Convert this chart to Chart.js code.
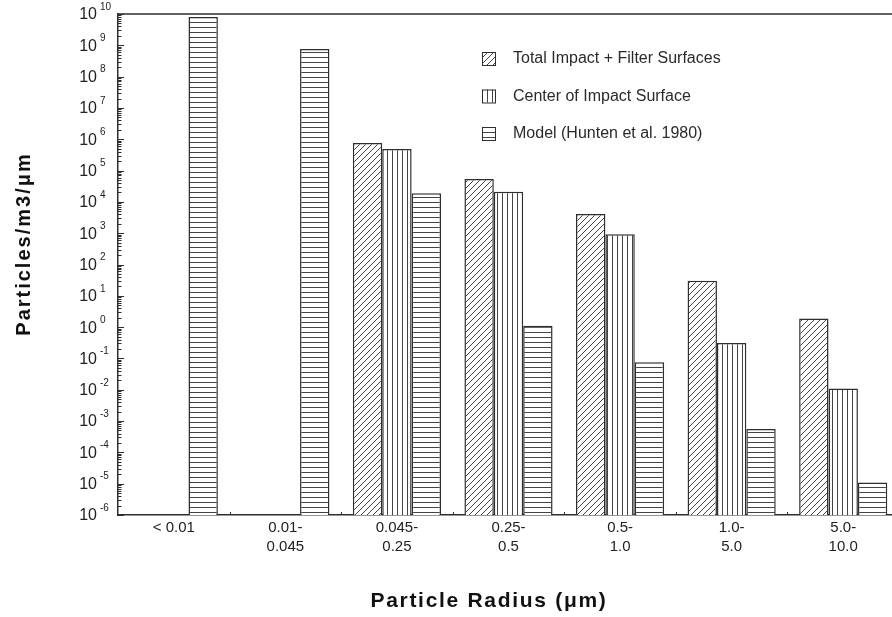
<!DOCTYPE html>
<html>
<head>
<meta charset="utf-8">
<script src="https://cdn.jsdelivr.net/npm/chart.js@4.4.1/dist/chart.umd.min.js"></script>
<style>
  html, body { margin: 0; padding: 0; background: #fff; overflow: hidden; }
  #wrap { width: 906px; height: 617px; }
</style>
</head>
<body>
<div id="wrap"><canvas id="barChart" width="906" height="617"></canvas></div>
<script>
// categories (particle radius bins, um)
const categories = ['< 0.01', ['0.01-', '0.045'], ['0.045-', '0.25'], ['0.25-', '0.5'], ['0.5-', '1.0'], ['1.0-', '5.0'], ['5.0-', '10.0']];

// series values, particles/m3/um
const totalImpact  = [null, null, 7.6e5, 5.4e4, 4.1e3, 30, 1.9];
const centerImpact = [null, null, 4.9e5, 2.1e4, 930, 0.31, 0.011];
const modelHunten  = [8.0e9, 7.6e8, 1.9e4, 1.1, 0.075, 5.6e-4, 1.1e-5];

const seriesLabels = ['Total Impact + Filter Surfaces', 'Center of Impact Surface', 'Model (Hunten et al. 1980)'];

// y tick labels are 10^n for these exponents
const yTickExponents = [-6, -5, -4, -3, -2, -1, 0, 1, 2, 3, 4, 5, 6, 7, 8, 9, 10];

const yTitle = 'Particles/m3/\u03bcm';
const xTitle = 'Particle Radius (\u03bcm)';

const ink = '#2e2e2e';
const ctx = document.getElementById('barChart').getContext('2d');

// hatch fills like the printed figure
function makePattern(kind) {
  const s = kind === 'diag' ? 6 : 5;
  const c = document.createElement('canvas');
  c.width = s; c.height = s;
  const g = c.getContext('2d');
  g.fillStyle = '#fff';
  g.fillRect(0, 0, s, s);
  g.strokeStyle = '#444';
  g.lineWidth = 1;
  g.beginPath();
  if (kind === 'diag') {
    g.moveTo(-1, s + 1); g.lineTo(s + 1, -1);
    g.moveTo(-1, 1); g.lineTo(1, -1);
    g.moveTo(s - 1, s + 1); g.lineTo(s + 1, s - 1);
  } else if (kind === 'vert') {
    g.moveTo(2.5, 0); g.lineTo(2.5, s);
  } else {
    g.moveTo(0, 2.5); g.lineTo(s, 2.5);
  }
  g.stroke();
  return ctx.createPattern(c, 'repeat');
}

const fills = [makePattern('diag'), makePattern('vert'), makePattern('horiz')];

// ticks, labels with superscripts, titles and legend
const decorations = {
  id: 'decorations',
  afterDraw(chart) {
    const c = chart.ctx;
    const area = chart.chartArea;
    const y = chart.scales.y;
    const x = chart.scales.x;
    c.save();

    // top frame line
    c.strokeStyle = ink;
    c.lineWidth = 1.5;
    c.beginPath();
    c.moveTo(area.left, area.top);
    c.lineTo(area.right, area.top);
    c.stroke();

    // inward log ticks on the y axis
    c.lineWidth = 1;
    c.beginPath();
    for (let i = 0; i < yTickExponents.length; i++) {
      const e = yTickExponents[i];
      const maxK = i === yTickExponents.length - 1 ? 1 : 9;
      for (let k = 1; k <= maxK; k++) {
        const py = Math.round(y.getPixelForValue(k * Math.pow(10, e))) + 0.5;
        c.moveTo(area.left, py);
        c.lineTo(area.left + (k === 1 ? 6 : 3.5), py);
      }
    }
    // small marks between categories
    for (let i = 0; i < categories.length - 1; i++) {
      const px = Math.round((x.getPixelForTick(i) + x.getPixelForTick(i + 1)) / 2) + 0.5;
      c.moveTo(px, area.bottom);
      c.lineTo(px, area.bottom - 3);
    }
    c.stroke();

    // y tick labels 10^n
    c.fillStyle = '#222';
    c.textBaseline = 'middle';
    yTickExponents.forEach(e => {
      const py = y.getPixelForValue(Math.pow(10, e)) + 1;
      c.font = '16px "Liberation Sans", Arial, sans-serif';
      c.textAlign = 'right';
      c.fillText('10', area.left - 21, py);
      c.font = '10px "Liberation Sans", Arial, sans-serif';
      c.textAlign = 'left';
      c.fillText(String(e), area.left - 18, py - 8);
    });

    // axis titles
    c.fillStyle = '#111';
    c.textAlign = 'center';
    c.textBaseline = 'alphabetic';
    c.font = 'bold 20px "Liberation Sans", Arial, sans-serif';
    c.letterSpacing = '2px';
    c.save();
    c.translate(30, 244);
    c.rotate(-Math.PI / 2);
    c.fillText(yTitle, 0, 0);
    c.restore();
    c.font = 'bold 21px "Liberation Sans", Arial, sans-serif';
    c.letterSpacing = '1.7px';
    c.fillText(xTitle, 489, 607);
    c.letterSpacing = '0px';

    // legend
    c.font = '16px "Liberation Sans", Arial, sans-serif';
    c.textAlign = 'left';
    c.textBaseline = 'middle';
    chart.data.datasets.forEach((ds, i) => {
      const bx = area.left + 364;
      const by = area.top + 38 + i * 37.5;
      c.fillStyle = ds.backgroundColor;
      c.fillRect(bx, by, 13, 13);
      c.strokeStyle = ink;
      c.lineWidth = 1;
      c.strokeRect(bx + 0.5, by + 0.5, 13, 13);
      c.fillStyle = '#2a2a2a';
      c.fillText(ds.label, area.left + 395, by + 7);
    });

    c.restore();
  }
};

new Chart(ctx, {
  type: 'bar',
  data: {
    labels: categories,
    datasets: [
      { label: seriesLabels[0], data: totalImpact, backgroundColor: fills[0] },
      { label: seriesLabels[1], data: centerImpact, backgroundColor: fills[1] },
      { label: seriesLabels[2], data: modelHunten, backgroundColor: fills[2] }
    ].map(ds => Object.assign(ds, {
      borderColor: ink,
      borderWidth: 1.5,
      categoryPercentage: 0.79,
      barPercentage: 1.0
    }))
  },
  options: {
    responsive: false,
    animation: false,
    layout: { padding: { top: 14, right: 7, left: 0, bottom: 0 } },
    plugins: {
      legend: { display: false },
      tooltip: { enabled: false }
    },
    scales: {
      x: {
        grid: { display: false, drawTicks: false },
        border: { display: true, color: ink, width: 1.5 },
        ticks: {
          color: '#222',
          padding: 3,
          font: { family: '"Liberation Sans", Arial, sans-serif', size: 15, lineHeight: 1.27 }
        },
        afterFit(scale) { scale.height = 102; }
      },
      y: {
        type: 'logarithmic',
        min: 1e-6,
        max: 1e10,
        grid: { display: false, drawTicks: false },
        border: { display: true, color: ink, width: 1.5 },
        ticks: { display: false },
        afterFit(scale) { scale.width = 118; }
      }
    }
  },
  plugins: [decorations]
});
</script>
</body>
</html>
